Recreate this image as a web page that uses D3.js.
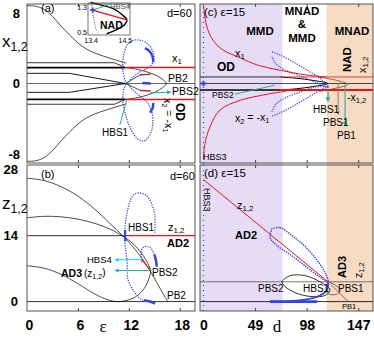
<!DOCTYPE html>
<html><head><meta charset="utf-8">
<script src="https://cdn.jsdelivr.net/npm/d3@7"></script>
<style>
body{margin:0;background:#fff}
svg{display:block;font-family:"Liberation Sans",Arial,sans-serif}
</style></head><body><div id="chart"></div>
<script>
// ---- ticks ----
const tickE = [0, 6, 12, 18];
const tickD = [0, 49, 98, 147];
const tickA = [-8, 0, 8];
const tickB = [0, 14, 28];

// ---- panel (a): x1,2 vs eps, d=60 ----
const aOuterEps = [0, 1, 2, 3, 4, 5, 6, 7, 8, 9, 10, 11, 11.7];
const aOuterTop = [8.8, 8.75, 8.4, 7.6, 6.5, 5.5, 4.6, 3.9, 3.45, 3.1, 2.8, 2.5, 2.3];
const aOuterBot = [-8.8, -8.75, -8.4, -7.6, -6.5, -5.5, -4.6, -3.9, -3.45, -3.1, -2.8, -2.5, -2.3];
const aL1Eps = [0, 10.3, 11.6], aL1X = [2.35, 2.35, 1.8];
const aL6Eps = [0, 10.3, 11.6], aL6X = [-2.35, -2.35, -1.8];
const aL3Eps = [0, 5, 11.6], aL3X = [1.15, 1.15, 0];
const aL4Eps = [0, 5, 11.6], aL4X = [-1.0, -1.0, 0];
const aODEps = [0, 11.6], aODTop = [1.8, 1.8], aODBot = [-1.8, -1.8];
const aRedEps = [11.6, 19.8];
const aZeroEps = [0, 19.8], aZeroX = [0, 0];
const aNoseEps = [11.6, 13.0, 14.5, 15.8, 16.4, 15.8, 14.5, 13.0, 11.6];
const aNoseX = [1.8, 1.6, 1.2, 0.6, 0, -0.6, -1.2, -1.6, -1.8];
const aInnerEps = [11.6, 13.3, 14.5], aInnerTop = [0, 0.95, 1.05], aInnerBot = [0, -0.75, -0.85];
const aRedShortEps = [13.3, 14.6], aRedShortTop = [1.0, 1.05], aRedShortBot = [-0.8, -0.85];
const aTopLobeEps = [11.76, 11.29, 11.41, 11.88, 12.71, 13.65, 14.47, 14.94, 14.82, 14.24, 13.29, 12.35];
const aTopLobeX = [0.06, 1.53, 3.23, 4.47, 4.93, 4.81, 4.25, 3.23, 2.32, 1.76, 1.30, 0.62];
const aBotLobeEps = [11.76, 11.29, 11.53, 12.12, 12.94, 13.76, 14.47, 14.82, 14.71, 14.24, 13.29, 12.35];
const aBotLobeX = [0.06, -1.53, -3.23, -4.93, -6.18, -6.52, -5.83, -4.70, -3.23, -2.21, -1.42, -0.62];
const aThickTopEps = [13.9, 14.5, 14.8, 14.9], aThickTopX = [4.0, 3.6, 3.0, 2.4];
const aThickBotEps = [14.9, 14.8, 14.5], aThickBotX = [-2.2, -2.8, -3.3];
const aThickMidEps = [13.6, 14.6], aThickMidX = [0.05, 0.0];

// inset of (a)
const insEps = [13.38, 13.7, 14.1, 14.4, 14.55, 14.45, 14.2, 13.9];
const insX = [1.44, 1.36, 1.25, 1.05, 0.89, 0.72, 0.58, 0.46];
const insRedEps = [13.45, 14.55], insRedX = [1.2, 0.89];
const insBlueEps = [13.42, 13.44, 13.46, 13.48, 13.5, 13.52, 13.55, 13.6];
const insBlueX = [1.36, 1.2, 1.05, 0.95, 0.85, 0.75, 0.62, 0.5];

// ---- panel (b): z1,2 vs eps ----
const bTopEps = [0, 2, 4, 6, 8, 10, 11, 12, 13, 14, 15, 16, 16.6];
const bTopZ = [26.2, 25.7, 24.4, 22.4, 19.6, 16.2, 14.5, 12.6, 10.5, 8.0, 5.0, 1.8, 0];
const bMidEps = [0, 2, 4, 6, 8, 10, 11, 11.8, 12.6, 13.4, 14.1, 14.6];
const bMidZ = [17.8, 18.1, 18.0, 17.5, 16.6, 15.2, 14.2, 13.3, 12.1, 10.5, 8.6, 6.6];
const bLowEps = [0, 2, 4, 6, 8, 9.5, 10.5, 11.5, 12.5, 13.3, 14, 14.4, 14.6];
const bLowZ = [7.6, 7.1, 5.8, 3.8, 1.6, 0.4, 0, 0.15, 0.7, 1.7, 3.3, 5.0, 6.6];
const bAD2Eps = [0, 11.7], bAD2Z = [14, 14];
const bRedEps = [11.7, 19.8];
const bZeroEps = [0, 19.8], bZeroZ = [0, 0];
const bRedChordEps = [13.5, 14.6], bRedChordZ = [8.9, 6.6];
const bLoopEps = [15.06, 15.06, 14.8, 14.2, 13.1, 12.4, 11.8, 11.5, 11.8, 11.9, 12.7, 13.5, 14.5];
const bLoopZ = [14.6, 18.5, 20.2, 22.3, 23.1, 22.3, 18.9, 13.8, 8.3, 4.7, 1.9, 0.4, 0];
const bSmallEps = [13.5, 13.5, 13.9, 14.5, 15.1, 15.3];
const bSmallZ = [8.3, 11.0, 11.7, 11.5, 9.5, 7.4];
const bThickEps = [13.8, 14.5, 15.1], bThickZ = [0.3, 0, -0.4];
const bThickSmallEps = [15.0, 15.2, 15.3], bThickSmallZ = [10.0, 8.8, 7.4];

// ---- panel (c): x1,2 vs d, eps=15 ----
const cTopD = [0, 0.5, 3.3, 9, 18.5, 35, 51, 73, 98, 117];
const cTopX = [9.0, 8.3, 6.4, 4.9, 3.8, 2.9, 2.1, 1.5, 0.96, 0.74];
const cBotD = [0, 1.4, 6.2, 15.7, 35, 57, 73, 80];
const cBotX = [-8.6, -6.8, -4.9, -3.0, -1.9, -1.3, -0.96, -0.8];
const cBlackD = [-3.3, 73], cRedD = [73, 161];
const cUpper = [0.74, 0.74], cLower = [-0.74, -0.74];
const cZeroD = [-3.3, 161], cZeroX = [0, 0];
const cLensD = [73, 88, 104, 118, 104, 88, 73];
const cLensX = [0.74, 0.6, 0.35, 0, -0.35, -0.6, -0.74];
const cBrownD = [110, 125, 137, 125, 110];
const cBrownX = [0.7, 0.4, -0.1, -0.55, -0.9];
const cLoopTopD = [65.1, 72.7, 87.0, 101.3, 112.7, 118.4, 106.0, 91.7, 77.5, 68.9, 65.1];
const cLoopTopX = [3.57, 3.23, 2.32, 1.30, 0.40, -0.40, 0.17, 0.85, 1.53, 2.21, 3.11];
const cLoopBotD = [65.1, 72.7, 87.0, 101.3, 112.7, 118.4, 106.0, 91.7, 77.5, 68.9, 65.1];
const cLoopBotX = [-3.68, -3.34, -2.43, -1.42, -0.62, -0.40, -0.40, -0.96, -1.64, -2.32, -3.23];
const hbs3D = [0, 0];

// ---- panel (d): z1,2 vs d ----
const dRedD = [0, 118.3], dRedZ = [25.9, 4.2];
const dAD3D = [-3.3, 161], dAD3Z = [4.2, 4.2];
const dZeroD = [-3.3, 161], dZeroZ = [0, 0];
const dLoopD = [65.1, 72.7, 84.1, 97.4, 108.8, 116.4, 118.3, 108.8, 96.5, 82.2, 68.9, 63.2, 65.1];
const dLoopZ = [15.5, 15.7, 14.0, 11.5, 8.5, 5.7, 4.2, 5.5, 7.6, 10.0, 12.1, 13.6, 15.5];
const dTailD = [118.3, 117.4, 110.7, 96.5, 77.5, 63.2];
const dTailZ = [4.2, 2.5, 1.3, 0.4, 0, 0];
const dEllD = [74.6, 82.2, 96.5, 110.7, 120.2, 115.5, 101.2, 87.0, 77.5];
const dEllZ = [4.2, 5.5, 5.5, 4.2, 2.5, 1.3, 1.1, 1.9, 3.2];
const dSmallD = [118.3, 126, 129.8, 126, 118.3, 116];
const dSmallZ = [4.2, 3.4, 2.3, 1.5, 1.7, 3.0];
const dPB1D = [120.2, 137.4], dPB1Z = [3.8, 0];

// ---- colours ----
const RED = '#e8141b', BLUE = '#2f45e6', CYAN = '#19d6e6', TEAL = '#26a99a', PURPLE = '#e6dcf6', PEACH = '#f8dbc3';

const svg = d3.select('#chart').append('svg').attr('width', 374).attr('height', 338);

const xE = d3.scaleLinear().domain([0, 19.8]).range([27, 195]);
const xD = d3.scaleLinear().domain([-3.3, 161]).range([200, 373]);
const yA = d3.scaleLinear().domain([-9, 9]).range([163, 4]);
const yB = d3.scaleLinear().domain([-2, 29]).range([311, 165]);
const xI = d3.scaleLinear().domain([13.3, 14.65]).range([88, 130]);
const yI = d3.scaleLinear().domain([0.42, 1.42]).range([35, 3]);

const defs = svg.append('defs');
function clip(id, sx, sy) {
  defs.append('clipPath').attr('id', id).append('rect')
    .attr('x', sx.range()[0]).attr('y', sy.range()[1])
    .attr('width', sx.range()[1] - sx.range()[0]).attr('height', sy.range()[0] - sy.range()[1]);
}
clip('ca', xE, yA); clip('cb', xE, yB); clip('cc', xD, yA); clip('cd', xD, yB);
[['arC', CYAN], ['arT', TEAL], ['arG', '#777'], ['arK', '#2fb59a']].forEach(function(m) {
  defs.append('marker').attr('id', m[0]).attr('viewBox', '0 0 6 6').attr('refX', 5).attr('refY', 3)
    .attr('markerWidth', 4).attr('markerHeight', 4).attr('orient', 'auto')
    .append('path').attr('d', 'M0,0L6,3L0,6Z').attr('fill', m[1]);
});

// backgrounds for (c),(d)
svg.append('rect').attr('x', xD(-3.3)).attr('y', 4).attr('width', xD(75) - xD(-3.3)).attr('height', 307).attr('fill', PURPLE);
svg.append('rect').attr('x', xD(117)).attr('y', 4).attr('width', xD(161) - xD(117)).attr('height', 307).attr('fill', PEACH);

const gA = svg.append('g').attr('clip-path', 'url(#ca)');
const gB = svg.append('g').attr('clip-path', 'url(#cb)');
const gC = svg.append('g').attr('clip-path', 'url(#cc)');
const gD = svg.append('g').attr('clip-path', 'url(#cd)');

function draw(g, xs, ys, sx, sy, st) {
  st = st || {};
  const ln = d3.line().x(d => sx(d[0])).y(d => sy(d[1])).curve(st.curve || d3.curveLinear);
  return g.append('path').attr('d', ln(d3.zip(xs, ys)))
    .attr('fill', 'none').attr('stroke', st.c || '#000').attr('stroke-width', st.w || 0.7)
    .attr('stroke-dasharray', st.dash || null).attr('marker-end', st.m || null);
}
const smooth = d3.curveCatmullRom, closed = d3.curveCatmullRomClosed;
const dotted = {c: BLUE, w: 1.3, dash: '1.2,1.3', curve: closed};

// ---- (a) ----
draw(gA, aZeroEps, aZeroX, xE, yA, {w: 0.6});
draw(gA, aOuterEps, aOuterTop, xE, yA, {curve: smooth, w: 0.7});
draw(gA, aOuterEps, aOuterBot, xE, yA, {curve: smooth, w: 0.7});
draw(gA, aL1Eps, aL1X, xE, yA, {w: 0.8});
draw(gA, aL6Eps, aL6X, xE, yA, {w: 0.8});
draw(gA, aL3Eps, aL3X, xE, yA, {w: 0.9});
draw(gA, aL4Eps, aL4X, xE, yA, {w: 0.9});
draw(gA, aODEps, aODTop, xE, yA, {w: 1.6});
draw(gA, aODEps, aODBot, xE, yA, {w: 1.6});
draw(gA, aNoseEps, aNoseX, xE, yA, {curve: smooth, w: 0.7});
draw(gA, aInnerEps, aInnerTop, xE, yA, {w: 0.7});
draw(gA, aInnerEps, aInnerBot, xE, yA, {w: 0.7});
draw(gA, aTopLobeEps, aTopLobeX, xE, yA, dotted);
draw(gA, aBotLobeEps, aBotLobeX, xE, yA, dotted);
draw(gA, aRedEps, aODTop, xE, yA, {c: RED, w: 1.5});
draw(gA, aRedEps, aODBot, xE, yA, {c: RED, w: 1.5});
draw(gA, aRedShortEps, aRedShortTop, xE, yA, {c: RED, w: 1.2});
draw(gA, aRedShortEps, aRedShortBot, xE, yA, {c: RED, w: 1.2});
draw(gA, aThickTopEps, aThickTopX, xE, yA, {c: BLUE, w: 2.4, curve: smooth});
draw(gA, aThickBotEps, aThickBotX, xE, yA, {c: BLUE, w: 2.4, curve: smooth});
draw(gA, aThickMidEps, aThickMidX, xE, yA, {c: BLUE, w: 2.4});
draw(gA, [11.76, 10.94], [-1.87, -4.7], xE, yA, {c: TEAL, w: 1});
draw(gA, [14.47, 16.9], [-1.07, -0.98], xE, yA, {c: TEAL, w: 1, m: 'url(#arT)'});

// inset
svg.append('rect').attr('x', xI(13.3)).attr('y', yI(1.42)).attr('width', xI(14.65) - xI(13.3))
  .attr('height', yI(0.42) - yI(1.42)).attr('fill', '#fff').attr('stroke', '#555').attr('stroke-width', 0.8);
const gI = svg.append('g');
draw(gI, insBlueEps, insBlueX, xI, yI, {c: BLUE, w: 1, dash: '1,1.5', curve: smooth});
draw(gI, insEps, insX, xI, yI, {w: 1.4, curve: smooth});
draw(gI, insRedEps, insRedX, xI, yI, {c: RED, w: 1.3});
draw(gI, [13.45, 13.98], [1.2, 1.37], xI, yI, {c: TEAL, w: 1});
gI.append('path').attr('d', d3.symbol(d3.symbolCross, 14)()).attr('fill', BLUE)
  .attr('transform', 'translate(' + xI(13.45) + ',' + yI(1.2) + ')');

// ---- (b) ----
draw(gB, bZeroEps, bZeroZ, xE, yB, {w: 0.8});
draw(gB, bAD2Eps, bAD2Z, xE, yB, {w: 0.8});
draw(gB, bRedEps, bAD2Z, xE, yB, {c: RED, w: 1.3});
draw(gB, bTopEps, bTopZ, xE, yB, {curve: smooth, w: 0.7});
draw(gB, bMidEps, bMidZ, xE, yB, {curve: smooth, w: 0.7});
draw(gB, bLowEps, bLowZ, xE, yB, {curve: smooth, w: 0.7});
draw(gB, bRedChordEps, bRedChordZ, xE, yB, {c: RED, w: 1.1});
draw(gB, bLoopEps, bLoopZ, xE, yB, {c: BLUE, w: 1.3, dash: '1.2,1.3', curve: smooth});
draw(gB, bSmallEps, bSmallZ, xE, yB, {c: BLUE, w: 1.3, dash: '1.2,1.3', curve: smooth});
draw(gB, bThickEps, bThickZ, xE, yB, {c: BLUE, w: 2.6, curve: smooth});
draw(gB, bThickSmallEps, bThickSmallZ, xE, yB, {c: BLUE, w: 2.4, curve: smooth});
draw(gB, [11.55, 11.6], [15.2, 12.8], xE, yB, {c: BLUE, w: 2.2});
draw(gB, [13.5, 10.4], [8.9, 8.9], xE, yB, {c: CYAN, w: 1, m: 'url(#arC)'});
draw(gB, [14.6, 10.4], [6.6, 6.6], xE, yB, {c: TEAL, w: 1, m: 'url(#arT)'});

// ---- (c) ----
draw(gC, cZeroD, cZeroX, xD, yA, {w: 0.7});
draw(gC, cBlackD, cUpper, xD, yA, {w: 0.8});
draw(gC, cBlackD, cLower, xD, yA, {w: 1.6});
draw(gC, cLensD, cLensX, xD, yA, {w: 1, curve: smooth});
draw(gC, cBrownD, cBrownX, xD, yA, {c: '#8a5a33', w: 0.9, curve: smooth});
draw(gC, cLoopTopD, cLoopTopX, xD, yA, {c: BLUE, w: 1.3, dash: '1.2,1.3', curve: smooth});
draw(gC, cLoopBotD, cLoopBotX, xD, yA, {c: BLUE, w: 1.3, dash: '1.2,1.3', curve: smooth});
draw(gC, cTopD, cTopX, xD, yA, {c: RED, w: 1, curve: smooth});
draw(gC, cBotD, cBotX, xD, yA, {c: RED, w: 1, curve: smooth});
draw(gC, cRedD, cUpper, xD, yA, {c: RED, w: 0.8});
draw(gC, cRedD, cLower, xD, yA, {c: RED, w: 2});
draw(gC, hbs3D, [-9, 9], xD, yA, {c: BLUE, w: 1.2, dash: '1,4'});
gC.append('path').attr('d', d3.symbol(d3.symbolCross, 18)()).attr('fill', BLUE)
  .attr('transform', 'translate(' + xD(0) + ',' + yA(0) + ')');
draw(gC, [118.3, 118.3], [-0.74, -2.0], xD, yA, {c: TEAL, w: 1.2, m: 'url(#arT)'});
draw(gC, [127.9, 127.9], [0, -3.5], xD, yA, {c: '#777', w: 0.9, m: 'url(#arG)'});
draw(gC, [134.5, 134.5], [-0.1, -4.8], xD, yA, {c: '#2fb59a', w: 1.2, m: 'url(#arK)'});
draw(gC, [30, 67.5], [-1.2, -0.2], xD, yA, {c: TEAL, w: 1});

// ---- (d) ----
draw(gD, dZeroD, dZeroZ, xD, yB, {w: 0.8});
draw(gD, dAD3D, dAD3Z, xD, yB, {c: '#555', w: 0.8});
draw(gD, dEllD, dEllZ, xD, yB, {w: 0.8, curve: closed});
draw(gD, dSmallD, dSmallZ, xD, yB, {c: '#6b4a2e', w: 0.8, curve: smooth});
draw(gD, dPB1D, dPB1Z, xD, yB, {c: '#6b4a2e', w: 0.8});
draw(gD, dLoopD, dLoopZ, xD, yB, {c: BLUE, w: 1.4, dash: '1.4,1', curve: closed});
draw(gD, dTailD, dTailZ, xD, yB, {c: BLUE, w: 1.8, curve: smooth});
draw(gD, [63.2, 108], [0, 0], xD, yB, {c: BLUE, w: 2.6});
draw(gD, dRedD, dRedZ, xD, yB, {c: RED, w: 1});
draw(gD, hbs3D, [-2, 29], xD, yB, {c: BLUE, w: 1.2, dash: '1,4'});

// ---- frames and inner ticks ----
[[xE, yA, tickE], [xE, yB, tickE], [xD, yA, tickD], [xD, yB, tickD]].forEach(function(p) {
  const sx = p[0], sy = p[1];
  svg.append('rect').attr('x', sx.range()[0]).attr('y', sy.range()[1])
    .attr('width', sx.range()[1] - sx.range()[0]).attr('height', sy.range()[0] - sy.range()[1])
    .attr('fill', 'none').attr('stroke', '#444').attr('stroke-width', 0.9);
  [sy.range()[0], sy.range()[1]].forEach(function(yy, i) {
    const ax = (i === 0 ? d3.axisBottom(sx).tickSize(-3) : d3.axisTop(sx).tickSize(-3));
    svg.append('g').attr('transform', 'translate(0,' + yy + ')')
      .call(ax.tickValues(p[2].slice(1)).tickFormat(''))
      .call(g => g.select('.domain').remove())
      .selectAll('line').attr('stroke', '#444');
  });
});

// ---- axes labels ----
const fmt = d => String(d);
function styleAxis(g, fs) {
  g.select('.domain').remove();
  g.selectAll('text').attr('font-size', fs).attr('font-weight', 'bold')
    .attr('font-family', '"Liberation Sans",Arial,sans-serif').attr('fill', '#000');
}
svg.append('g').attr('transform', 'translate(2,320)')
  .call(d3.axisBottom(xE).tickValues(tickE).tickFormat(fmt).tickSize(0).tickPadding(0)).call(g => styleAxis(g, 14));
svg.append('g').attr('transform', 'translate(0,320)')
  .call(d3.axisBottom(xD).tickValues(tickD).tickFormat(fmt).tickSize(0).tickPadding(0)).call(g => styleAxis(g, 14));
svg.append('g').attr('transform', 'translate(20,0)')
  .call(d3.axisLeft(yA).tickValues(tickA).tickFormat(fmt).tickSize(0).tickPadding(0)).call(g => styleAxis(g, 13));
svg.append('g').attr('transform', 'translate(18,0)')
  .call(d3.axisLeft(yB).tickValues(tickB).tickFormat(fmt).tickSize(0).tickPadding(0)).call(g => styleAxis(g, 13));

// ---- text annotations ----
function txt(x, y, pieces, o) {
  o = o || {};
  const t = svg.append('text').attr('x', x).attr('y', y).attr('font-size', o.fs || 10)
    .attr('font-weight', o.bold ? 'bold' : null).attr('text-anchor', o.anchor || 'start')
    .attr('fill', o.c || '#000').attr('font-family', o.ff || null);
  if (o.rot) t.attr('transform', 'rotate(' + o.rot + ',' + x + ',' + y + ')');
  if (typeof pieces === 'string') pieces = [[pieces]];
  let down = false;
  pieces.forEach(function(p) {
    const s = t.append('tspan').text(p[0]);
    if (p[1] && !down) { s.attr('dy', '0.3em').attr('font-size', '0.72em'); down = true; }
    else if (p[1]) { s.attr('font-size', '0.72em'); }
    else if (down) { s.attr('dy', '-0.3em'); down = false; }
  });
  return t;
}
const serif = '"Liberation Serif","DejaVu Serif",serif';
txt(103, 332, 'ε', {fs: 17, anchor: 'middle', ff: serif});
txt(277, 332, 'd', {fs: 17, anchor: 'middle', ff: serif});
txt(2, 47, [['x'], ['1,2', 1]], {fs: 17});
txt(2, 209, [['z'], ['1,2', 1]], {fs: 17});

// (a)
txt(41, 12, '(a)', {fs: 11});
txt(167, 17, 'd=60', {fs: 11});
txt(172, 62, [['x'], ['1', 1]], {fs: 11});
txt(168, 82, 'PB2', {fs: 10.5});
txt(172, 95, 'PBS2', {fs: 10.5});
txt(176, 103, 'OD', {fs: 12, bold: true, rot: 90});
txt(164, 98, [['x'], ['2', 1], [' = -x'], ['1', 1]], {fs: 10.5, rot: 90});
txt(102, 136, 'HBS1', {fs: 10});
txt(87, 10, '1.3', {fs: 7, anchor: 'end'});
txt(87, 35, '0.5', {fs: 7, anchor: 'end'});
txt(xI(13.4), 43, '13.4', {fs: 7, anchor: 'middle'});
txt(xI(14.5), 43, '14.5', {fs: 7, anchor: 'middle'});
txt(110, 9, 'HBS4', {fs: 7.5, c: '#555'});
txt(100, 29, 'NAD', {fs: 10.5, bold: true});

// (b)
txt(41, 178, '(b)', {fs: 11});
txt(170, 180, 'd=60', {fs: 11});
txt(168, 231, [['z'], ['1,2', 1]], {fs: 11});
txt(167, 247, 'AD2', {fs: 11, bold: true});
txt(128, 231, 'HBS1', {fs: 10});
txt(87, 263, 'HBS4', {fs: 9.5});
txt(61, 277, 'AD3', {fs: 10.5, bold: true});
txt(84, 277, [['(z'], ['1,2', 1], [')']], {fs: 10});
txt(152, 276, 'PBS2', {fs: 10});
txt(167, 299, 'PB2', {fs: 10});

// (c)
txt(204, 16, '(c) ε=15', {fs: 11.5});
txt(260, 35, 'MMD', {fs: 11.5, bold: true, anchor: 'middle'});
txt(302, 15, 'MNAD', {fs: 11.5, bold: true, anchor: 'middle'});
txt(302, 28, '&', {fs: 11.5, bold: true, anchor: 'middle'});
txt(302, 42, 'MMD', {fs: 11.5, bold: true, anchor: 'middle'});
txt(352, 35, 'MNAD', {fs: 11.5, bold: true, anchor: 'middle'});
txt(235, 57, [['x'], ['1', 1]], {fs: 11});
txt(217, 71, 'OD', {fs: 12, bold: true});
txt(351, 72, 'NAD', {fs: 11.5, bold: true, rot: -90});
txt(366, 73, [['x'], ['1,2', 1]], {fs: 11, rot: -90});
txt(347, 101, [['-x'], ['1,2', 1]], {fs: 10.5});
txt(212, 98, 'PBS2', {fs: 8.5});
txt(235, 122, [['x'], ['2', 1], [' = -x'], ['1', 1]], {fs: 10.5});
txt(203, 160, 'HBS3', {fs: 9});
txt(313, 113, 'HBS1', {fs: 10});
txt(323, 126, 'PBS1', {fs: 10});
txt(337, 139, 'PB1', {fs: 10});

// (d)
txt(204, 177, '(d) ε=15', {fs: 11.5});
txt(204, 188, 'HBS3', {fs: 9, rot: 90});
txt(237, 209, [['z'], ['1,2', 1]], {fs: 11});
txt(235, 239, 'AD2', {fs: 11, bold: true});
txt(258, 292, 'PBS2', {fs: 10});
txt(303, 292, 'HBS1', {fs: 10});
txt(338, 292, 'PBS1', {fs: 10});
txt(342, 309, 'PB1', {fs: 7.5});
txt(346, 278, 'AD3', {fs: 11, bold: true, rot: -90});
txt(362, 278, [['z'], ['1,2', 1]], {fs: 10.5, rot: -90});
</script></body></html>
